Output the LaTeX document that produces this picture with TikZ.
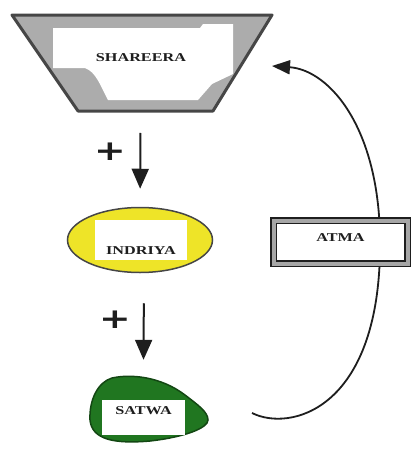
\documentclass[tikz,border=0pt]{standalone}
\usepackage{fontspec}
\setmainfont{Liberation Serif}
\newfontfamily\plusfont{DejaVu Sans}
\usetikzlibrary{arrows.meta,shapes.geometric}
\definecolor{cupgray}{RGB}{172,172,172}
\definecolor{edgegray}{RGB}{70,70,70}
\definecolor{indyellow}{RGB}{238,228,40}
\definecolor{satgreen}{RGB}{32,118,32}
\definecolor{inkblack}{RGB}{30,30,30}
\newcommand{\stretched}[1]{\scalebox{1.35}[1]{#1}}
\tikzset{
  lbl/.style={font=\bfseries\fontsize{12}{12}\selectfont, text=inkblack},
  whitebox/.style={lbl, rectangle, fill=white, inner sep=0pt},
  plussign/.style={font=\plusfont\bfseries\fontsize{28}{28}\selectfont, text=inkblack},
  flow/.style={draw=inkblack, line width=2pt, -{Triangle[length=20pt,width=17pt]}},
}
\begin{document}
\begin{tikzpicture}[x=1pt,y=-1pt]
      \useasboundingbox (0,0) rectangle (412,450);
      % shareera cup
      \draw[fill=cupgray, draw=edgegray, line width=3pt, line join=round] (12,15) -- (272,15) -- (213,111) -- (78,111) -- cycle;
      \fill[white] (53,28) -- (200,28) -- (203,24) -- (233,24) -- (233,74) -- (212,84) .. controls (205,92) .. (198,100) -- (108,100) .. controls (100,85) and (96,72) .. (85,68) -- (53,68) -- cycle;
      \node[lbl] (shareera) at (141,58) {\stretched{SHAREERA}};
      % indriya
      \node[ellipse, fill=indyellow, draw=edgegray, line width=1.5pt, minimum width=145pt, minimum height=65pt] (indriya) at (140,240) {};
      \node[whitebox, minimum width=92pt, text height=34pt, text depth=6pt] (indriyabox) at (141,240) {\stretched{INDRIYA}};
      % satwa
      \draw[fill=satgreen, draw=satgreen!60!black, line width=1.5pt] (112,378) .. controls (130,374) and (160,376) .. (185,395) .. controls (198,405) and (208,412) .. (208,420) .. controls (208,428) and (185,437) .. (150,441) .. controls (115,444) and (92,440) .. (90,420) .. controls (89,400) and (98,382) .. (112,378) -- cycle;
      \node[whitebox, minimum width=83pt, text height=14pt, text depth=21pt] (satwa) at (143.5,417.5) {\stretched{SATWA}};
      % the two steps
      \draw[flow, shorten <=75pt, shorten >=18pt] (shareera.center) -- (indriya.north);
      \node[plussign] (plusa) at (110,152) {\stretched{+}};
      \draw[flow, shorten <=30pt] ([xshift=4pt]indriya.south) -- ([yshift=40pt]satwa.north);
      \node[plussign] (plusb) at (115,320) {\stretched{+}};
      % return through atma
      \coordinate (loopstart) at (252,413);
      \coordinate (loopend) at (272,66);
      \draw[draw=inkblack, line width=1.8pt, -{Triangle[length=18pt,width=14pt]}] (loopstart) .. controls (290,432) and (378,410) .. (380,250) .. controls (382,130) and (330,70) .. (loopend);
      \node[lbl, rectangle, fill=white, draw=inkblack, double=gray!70, double distance=4pt, line width=1.5pt, minimum width=134pt, minimum height=43pt, inner sep=0pt, text height=20.5pt, text depth=22.5pt] (atma) at (340.5,242) {\stretched{ATMA}};
\end{tikzpicture}
\end{document}
